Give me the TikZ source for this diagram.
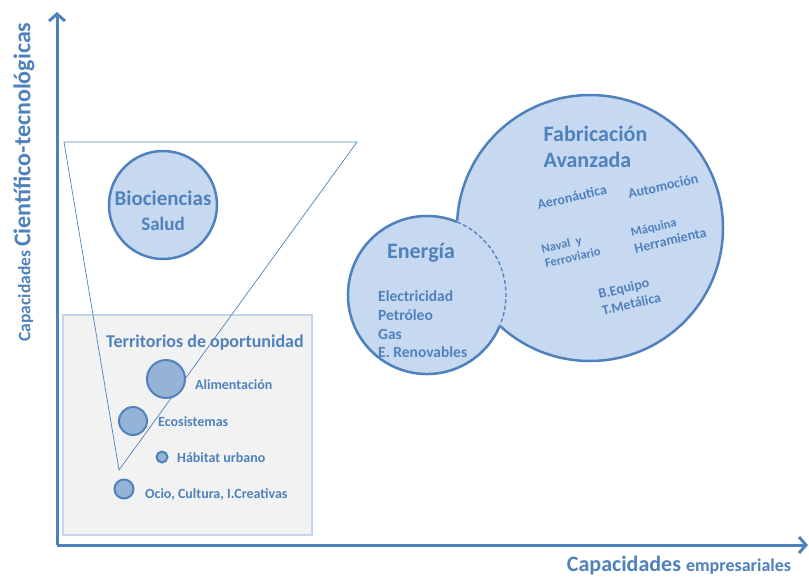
\documentclass[tikz,border=0pt]{standalone}
\usepackage{fontspec}
\setmainfont{Carlito}
\usetikzlibrary{arrows.meta}
\definecolor{azul}{HTML}{4F81BD}
\definecolor{azulclaro}{HTML}{C6D9F1}
\definecolor{azulmedio}{HTML}{95B3D7}
\definecolor{gris}{HTML}{F2F2F2}
\definecolor{bordegris}{HTML}{C5D5EA}
\tikzset{>=latex, line width=1.0pt}
\tikzset{
  sector/.style={circle,fill=azulclaro,draw=azul,line width=2.5pt,inner sep=0pt},
  territorio/.style={circle,fill=azulmedio,draw=azul,line width=2pt,inner sep=0pt},
  eje/.style={draw=azul,line width=3pt,-{Straight Barb[length=7pt,width=16pt]}},
  rotulo/.style={text=azul,font=\bfseries,inner sep=0pt},
}
\newcommand{\fs}[1]{\fontsize{#1}{1.2\dimexpr #1pt\relax}\selectfont}

\begin{document}
\begin{tikzpicture}[x=1pt,y=-1pt]
  \def\rE{79}
  \def\rF{133}
  \useasboundingbox (0,0) rectangle (809,576);

  % ejes
  \coordinate (orig) at (57,545);
  \coordinate (ytop) at (57,12);
  \coordinate (xend) at (808,545);
  \draw[eje] (orig) -- (ytop);
  \draw[eje] (orig) -- (xend);
  \node[rotulo,rotate=90] (ylab) at (24,182) {\fs{17.5}Capacidades \fs{24}Científico-tecnológicas};
  \node[rotulo] (xlab) at (679,566) {\fs{22}Capacidades \fs{18}empresariales};

  % territorios de oportunidad
  \node[draw=bordegris,fill=gris,line width=2pt,minimum width=249,minimum height=220] (terr) at (187.5,425) {};
  \coordinate (tl) at (64,142);
  \coordinate (tr) at (357,142);
  \coordinate (tb) at (119,470);
  \draw[azul,line width=0.7pt] (tl) -- (tr) -- (tb) -- cycle;
  \node[rotulo,font=\bfseries\fs{18}] (terrtit) at (205,343) {Territorios de oportunidad};

  \node[territorio,minimum size=38] (alim) at (166,379) {};
  \node[territorio,minimum size=28] (eco) at (133,421) {};
  \node[territorio,minimum size=11] (hab) at (162,457) {};
  \node[territorio,minimum size=19] (ocio) at (124,489) {};
  \node[rotulo,font=\bfseries\fs{14},anchor=west] at (195,385) {Alimentación};
  \node[rotulo,font=\bfseries\fs{14},anchor=west] at (158,422) {Ecosistemas};
  \node[rotulo,font=\bfseries\fs{14},anchor=west] at (177,458) {Hábitat urbano};
  \node[rotulo,font=\bfseries\fs{14},anchor=west] at (145,495) {Ocio, Cultura, I.Creativas};

  % biociencias
  \node[sector,minimum size=108] (bio) at (163,205) {};
  \node[rotulo,font=\bfseries\fs{21},align=center] (biotxt) at (163,211) {Biociencias\\{\fs{19}Salud}};

  % fabricacion avanzada
  \node[sector,minimum size=2*\rF] (fab) at (590,228) {};
  \node[rotulo,font=\bfseries\fs{22},align=left] (fabtit) at (595.5,147) {Fabricación\\Avanzada};
  \node[rotulo,font=\bfseries\fs{14},rotate=13] (aero) at (572,197) {Aeronáutica};
  \node[rotulo,font=\bfseries\fs{14},rotate=13] (autom) at (663,186) {Automoción};
  \node[rotulo,font=\bfseries\fs{12.5},rotate=13,align=left] (naval) at (571,250) {Naval\ \ y\\Ferroviario};
  \node[rotulo,font=\bfseries\fs{14},rotate=13,align=left] (maq) at (668.5,232.5) {{\fs{12.5}Máquina}\\Herramienta};
  \node[rotulo,font=\bfseries\fs{14},rotate=13,align=left] (equipo) at (629.5,295.5) {B.Equipo\\T.Metálica};

  % energia
  \node[sector,draw=none,minimum size=2*\rE+2.5] (ener) at (427,295) {};
  \draw[azul,line width=1.3pt,dash pattern=on 4pt off 2.5pt] (ener.center) ++(-67.6:\rE) arc[start angle=-67.6,end angle=23,radius=\rE];
  \draw[azul,line width=2.5pt] (ener.center) ++(23:\rE) arc[start angle=23,end angle=292.4,radius=\rE];
  \node[rotulo,font=\bfseries\fs{22}] (enertit) at (421,253) {Energía};
  \node[rotulo,font=\bfseries\fs{15.5},align=left,anchor=west] (enertxt) at (378,324.5) {Electricidad\\Petróleo\\Gas\\E. Renovables};
\end{tikzpicture}
\end{document}
